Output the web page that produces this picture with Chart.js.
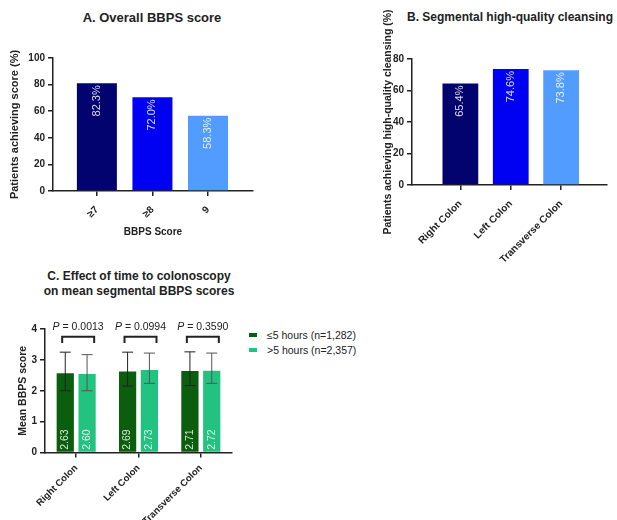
<!DOCTYPE html>
<html><head><meta charset="utf-8">
<script src="https://cdn.jsdelivr.net/npm/chart.js@4"></script>
<style>
body{margin:0;background:#fff;}
#wrap{position:relative;width:617px;height:520px;overflow:hidden;font-family:Arial,'Liberation Sans',sans-serif;color:#222;background:#fff;}
.c{position:absolute;}
.t{position:absolute;font-weight:bold;white-space:nowrap;color:#222;}
#legC{position:absolute;left:249px;top:328px;font-size:10.5px;line-height:15px;color:#222;white-space:nowrap;}
#legC .m{display:inline-block;width:8px;height:4px;vertical-align:middle;margin-right:10px;position:relative;top:-1px;}
</style></head><body>
<div id="wrap">
<div class="t" style="left:0;width:304px;text-align:center;top:10px;font-size:13px;line-height:15px;">A. Overall BBPS score</div>
<div class="t" style="left:407px;top:10px;font-size:12px;line-height:14px;">B. Segmental high-quality cleansing</div>
<div class="t" style="left:0;width:278px;text-align:center;top:269px;font-size:12px;line-height:15px;">C. Effect of time to colonoscopy<br>on mean segmental BBPS scores</div>
<canvas class="c" id="cA" width="300" height="248" style="left:0;top:0;"></canvas>
<canvas class="c" id="cB" width="287" height="275" style="left:330px;top:0;"></canvas>
<canvas class="c" id="cC" width="240" height="220" style="left:0;top:300px;"></canvas>
<div id="legC"></div>
</div>
<script>
// ---- Panel A data ----
const catA = ['≥7', '≥8', '9'];
const valA = [81.0, 70.4, 56.6];
const lblA = ['82.3%', '72.0%', '58.3%'];
const colA = ['#03036f', '#0000f2', '#529cff'];

// ---- Panel B data ----
const catB = ['Right Colon', 'Left Colon', 'Transverse Colon'];
const valB = [64.4, 73.6, 72.8];
const lblB = ['65.4%', '74.6%', '73.8%'];
const colB = ['#03036f', '#0000f2', '#529cff'];

// ---- Panel C data ----
const catC = ['Right Colon', 'Left Colon', 'Transverse Colon'];
const seriesNamesC = ['≤5 hours (n=1,282)', '>5 hours (n=2,357)'];
const meanC1 = [2.57, 2.62, 2.64];
const meanC2 = [2.54, 2.67, 2.65];
const lblC1 = ['2.63', '2.69', '2.71'];
const lblC2 = ['2.60', '2.73', '2.72'];
const errLoC1 = [2.00, 2.15, 2.17];
const errHiC1 = [3.25, 3.25, 3.26];
const errLoC2 = [2.00, 2.24, 2.24];
const errHiC2 = [3.17, 3.22, 3.22];
const pC = ['0.0013', '0.0994', '0.3590'];

const FONT = "Arial, 'Liberation Sans', sans-serif";
Chart.defaults.font.family = FONT;
Chart.defaults.color = '#222';
const AX = '#222';

function yAxis(max, step, title, titleSize, titlePadTop, width) {
  return {
    min: 0, max: max,
    ticks: {stepSize: step, font: {size: 10, weight: 'bold'}, color: AX, padding: 3},
    grid: {drawOnChartArea: false, drawTicks: true, tickLength: 5, color: AX, lineWidth: 1.5},
    border: {color: AX, width: 1.5},
    title: {display: true, text: title, font: {size: titleSize, weight: 'bold'}, color: AX, padding: {top: titlePadTop, bottom: 0}},
    afterFit: s => { s.width = width; }
  };
}
function xLinear(cats, min, max, title, height, titlePadBottom) {
  return {
    type: 'linear', min: min, max: max, offset: false,
    afterBuildTicks: s => { s.ticks = cats.map((_, i) => ({value: i})); },
    ticks: {callback: v => cats[v], autoSkip: false, minRotation: 45, maxRotation: 45, font: {size: 10, weight: 'bold'}, color: AX, padding: 8},
    grid: {drawOnChartArea: false, offset: false, drawTicks: true, tickLength: 5, color: AX, lineWidth: 1.5},
    border: {color: AX, width: 1.5},
    title: {display: !!title, text: title || '', font: {size: 10, weight: 'bold'}, color: AX, padding: {top: 0, bottom: titlePadBottom}},
    afterFit: s => { s.height = height; }
  };
}

const barText = {
  id: 'barText',
  afterDatasetsDraw(chart, args, opts) {
    const ctx = chart.ctx;
    chart.data.datasets.forEach((ds, di) => {
      const meta = chart.getDatasetMeta(di);
      meta.data.forEach((bar, i) => {
        ctx.save();
        ctx.font = opts.font;
        ctx.fillStyle = opts.color;
        ctx.textBaseline = 'middle';
        if (opts.anchor === 'top') {
          ctx.translate(bar.x, bar.y + opts.pad);
          ctx.rotate(-Math.PI / 2);
          ctx.textAlign = 'right';
        } else {
          ctx.translate(bar.x, bar.base - opts.pad);
          ctx.rotate(-Math.PI / 2);
          ctx.textAlign = 'left';
        }
        ctx.fillText(ds.valueLabels[i], 0, 0);
        ctx.restore();
      });
    });
  }
};

const errorBars = {
  id: 'errorBars',
  afterDatasetsDraw(chart) {
    const y = chart.scales.y, ctx = chart.ctx, cap = 5.5;
    chart.data.datasets.forEach((ds, di) => {
      const meta = chart.getDatasetMeta(di);
      meta.data.forEach((bar, i) => {
        const yl = y.getPixelForValue(ds.errLow[i]);
        const yh = y.getPixelForValue(ds.errHigh[i]);
        ctx.save();
        ctx.strokeStyle = ds.errColor; ctx.lineWidth = 1;
        ctx.beginPath();
        ctx.moveTo(bar.x, yl); ctx.lineTo(bar.x, yh);
        ctx.moveTo(bar.x - cap, yh); ctx.lineTo(bar.x + cap, yh);
        ctx.moveTo(bar.x - cap, yl); ctx.lineTo(bar.x + cap, yl);
        ctx.stroke();
        ctx.restore();
      });
    });
  }
};

const pBrackets = {
  id: 'pBrackets',
  afterDraw(chart) {
    const y = chart.scales.y, ctx = chart.ctx;
    const m0 = chart.getDatasetMeta(0), m1 = chart.getDatasetMeta(1);
    pC.forEach((p, i) => {
      const cx = (m0.data[i].x + m1.data[i].x) / 2 + 2;
      const half = 16;
      const yt = y.getPixelForValue(3.75), yb = y.getPixelForValue(3.55);
      ctx.save();
      ctx.strokeStyle = '#222'; ctx.lineWidth = 2;
      ctx.beginPath();
      ctx.moveTo(cx - half, yb); ctx.lineTo(cx - half, yt);
      ctx.lineTo(cx + half, yt); ctx.lineTo(cx + half, yb);
      ctx.stroke();
      const ty = y.getPixelForValue(4.07);
      ctx.font = 'italic 10.5px ' + FONT;
      const wP = ctx.measureText('P').width;
      ctx.font = '10.5px ' + FONT;
      const rest = ' = ' + p;
      const wR = ctx.measureText(rest).width;
      const x0 = cx - (wP + wR) / 2;
      ctx.textBaseline = 'middle'; ctx.textAlign = 'left'; ctx.fillStyle = '#222';
      ctx.font = 'italic 10.5px ' + FONT;
      ctx.fillText('P', x0, ty);
      ctx.font = '10.5px ' + FONT;
      ctx.fillText(rest, x0 + wP, ty);
      ctx.restore();
    });
  }
};

// ---- Chart A ----
new Chart(document.getElementById('cA'), {
  type: 'bar',
  data: {datasets: [{
    data: catA.map((c, i) => ({x: i, y: valA[i]})),
    backgroundColor: colA, borderWidth: 0,
    categoryPercentage: 1, barPercentage: 0.72,
    valueLabels: lblA
  }]},
  options: {
    responsive: false, animation: false,
    layout: {padding: {top: 58, right: 47, left: 0, bottom: 0}},
    plugins: {legend: {display: false}, tooltip: {enabled: false},
      barText: {font: '11px ' + FONT, color: 'rgba(255,255,255,0.85)', anchor: 'top', pad: 2}},
    scales: {
      x: xLinear(catA, -0.79, 2.81, 'BBPS Score', 57, 10),
      y: yAxis(100, 20, 'Patients achieving score (%)', 11, 8.4, 53)
    }
  },
  plugins: [barText]
});

// ---- Chart B ----
new Chart(document.getElementById('cB'), {
  type: 'bar',
  data: {datasets: [{
    data: catB.map((c, i) => ({x: i, y: valB[i]})),
    backgroundColor: colB, borderWidth: 0,
    categoryPercentage: 1, barPercentage: 0.71,
    valueLabels: lblB
  }]},
  options: {
    responsive: false, animation: false,
    layout: {padding: {top: 59, right: 10, left: 0, bottom: 0}},
    plugins: {legend: {display: false}, tooltip: {enabled: false},
      barText: {font: '11px ' + FONT, color: 'rgba(255,255,255,0.85)', anchor: 'top', pad: 2}},
    scales: {
      x: xLinear(catB, -0.96, 2.91, '', 90, 0),
      y: yAxis(80, 20, 'Patients achieving high-quality cleansing (%)', 10.5, 51.7, 82)
    }
  },
  plugins: [barText]
});

// ---- Chart C ----
const chartC = new Chart(document.getElementById('cC'), {
  type: 'bar',
  data: {labels: catC, datasets: [
    {label: seriesNamesC[0], data: meanC1, backgroundColor: '#0b5e0e', borderWidth: 0,
     valueLabels: lblC1, errLow: errLoC1, errHigh: errHiC1, errColor: '#222'},
    {label: seriesNamesC[1], data: meanC2, backgroundColor: '#22c281', borderWidth: 0,
     valueLabels: lblC2, errLow: errLoC2, errHigh: errHiC2, errColor: '#555'}
  ]},
  options: {
    responsive: false, animation: false,
    layout: {padding: {top: 29, right: 8, left: 0, bottom: 0}},
    datasets: {bar: {categoryPercentage: 0.70, barPercentage: 0.79}},
    plugins: {legend: {display: false}, tooltip: {enabled: false},
      barText: {font: '10.5px ' + FONT, color: 'rgba(255,255,255,0.85)', anchor: 'bottom', pad: 2}},
    scales: {
      x: {
        ticks: {autoSkip: false, minRotation: 45, maxRotation: 45, font: {size: 9.5, weight: 'bold'}, color: AX, padding: 5},
        grid: {drawOnChartArea: false, offset: false, drawTicks: true, tickLength: 5, color: AX, lineWidth: 1.5},
        border: {color: AX, width: 1.5},
        afterFit: s => { s.height = 67.5; }
      },
      y: yAxis(4, 1, 'Mean BBPS score', 10.5, 16.7, 45)
    }
  },
  plugins: [errorBars, barText, pBrackets]
});

// HTML legend generated from chart C datasets
const leg = document.getElementById('legC');
chartC.data.datasets.forEach(ds => {
  const row = document.createElement('div');
  const m = document.createElement('span');
  m.className = 'm'; m.style.background = ds.backgroundColor;
  row.appendChild(m);
  row.appendChild(document.createTextNode(ds.label));
  leg.appendChild(row);
});
</script>
</body></html>
